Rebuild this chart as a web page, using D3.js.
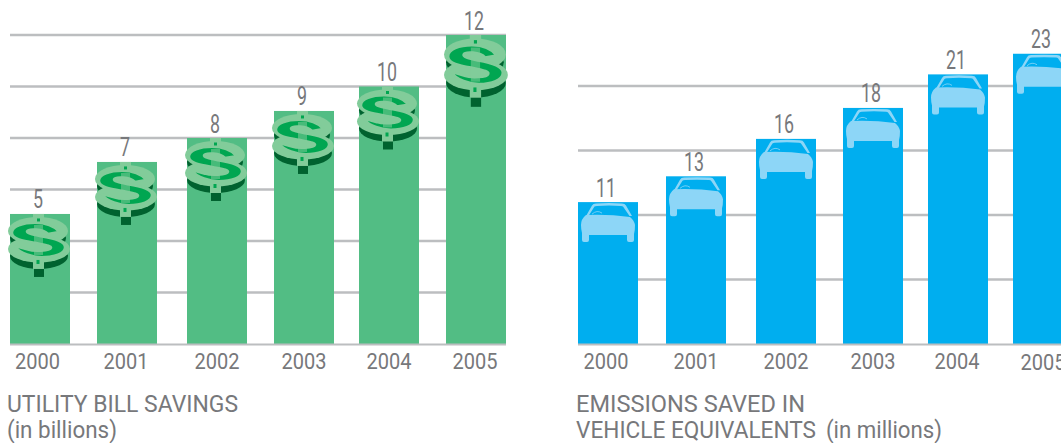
<!DOCTYPE html>
<html><head><meta charset="utf-8">
<script src="https://cdnjs.cloudflare.com/ajax/libs/d3/7.8.5/d3.min.js"></script>
<style>html,body{margin:0;padding:0;background:#fff;overflow:hidden}svg{display:block}text{font-family:Roboto,sans-serif;fill:#77787b}</style>
</head><body>
<svg id="c" width="1061" height="443"></svg>
<script>
const years = ["2000","2001","2002","2003","2004","2005"];
const savings = [5.05,7.07,8,9.05,10,12];
const savingsLabels = ["5","7","8","9","10","12"];
const emissions = [11,13,15.9,18.3,20.9,22.5];
const emissionsLabels = ["11","13","16","18","21","23"];
const savingsGrid = [2,4,6,8,10,12];
const emissionsGrid = [5,10,15,20];

const svg = d3.select("#c");
const baseY = 344, barW = 60, GRID = "#bcbec0";

const S_PATH = "M52,18 C46,10 36,8 28,8 C16,8 5,12 5,19 C5,26 17,28 28,30 C36,32 45,33 44,36 C43,40 26,40 21,38 L8,34 C13,42 26,46 35,46 C47,46 58,42 58,35 C58,28 46,25 34,23 C27,21.5 19,20 20,17 C21,14 36,14 41,20 Z";
function dollar(g, tall){
  const i = g.append("g").attr("transform", tall ? "scale(1.03,1.14)" : null);
  const light = "#82cc9a", dark = "#00622f", mid = "#00a651";
  const sT = "translate(0,1.84) scale(1,0.895)";
  i.append("rect").attr("x",27).attr("y",50).attr("width",10).attr("height",13).attr("fill",dark);
  i.append("ellipse").attr("cx",32).attr("cy",42).attr("rx",29).attr("ry",13).attr("fill",dark);
  i.append("ellipse").attr("cx",31).attr("cy",24).attr("rx",28).attr("ry",14).attr("fill",dark);
  i.append("ellipse").attr("cx",31).attr("cy",17).attr("rx",30).attr("ry",14).attr("fill",light);
  i.append("ellipse").attr("cx",32).attr("cy",35).attr("rx",31).attr("ry",13.5).attr("fill",light);
  i.append("path").attr("d",S_PATH).attr("transform",sT).attr("fill",mid).attr("stroke",light).attr("stroke-width",2.4).attr("stroke-linejoin","round");
  i.append("rect").attr("x",26).attr("y",0).attr("width",11).attr("height",7).attr("fill",light);
  i.append("rect").attr("x",26).attr("y",44).attr("width",11).attr("height",11).attr("fill",light);
  i.append("rect").attr("x",30).attr("y",4.5).attr("width",3).attr("height",3).attr("fill",mid);
  i.append("rect").attr("x",29.5).attr("y",46).attr("width",3).attr("height",4).attr("fill",mid);
  i.append("rect").attr("x",27).attr("y",11).attr("width",9).attr("height",30).attr("fill",light).attr("opacity",0.55);
}
function car(g){
  const c = "#8dd6f7";
  g.append("path").attr("fill",c).attr("d","M8,14 L14,3.5 Q15,1.4 18,1.3 Q31,0.6 44,1.3 Q47,1.4 48,3.5 L54,14 L51.5,14 L45,4.5 Q44.5,3.8 43,3.8 Q31,3 19,3.8 Q17,3.8 16.5,4.5 L10.5,14 Z");
  g.append("path").attr("fill","none").attr("stroke",c).attr("stroke-width",0.8).attr("d","M14,12 Q19,7.5 24,11");
  g.append("path").attr("fill",c).attr("d","M8,13 Q30,12 52,15 Q56,18 57,23 Q57,29 56,32 L56,38 Q56,40 54,40 L51,40 Q49,40 49,38 L49,33 L11,33 L11,38 Q11,40 9,40 L6,40 Q4,40 4,38 L4,31 Q3,27 3,23 Q3,17 8,13 Z");
}
function panel(o){
  const y = d3.scaleLinear().domain(o.domain).range([baseY,o.top]);
  const x = d3.scaleOrdinal().domain(years).range(o.barX);
  const tx = d3.scaleOrdinal().domain(years).range(o.tickX);
  const g = svg.append("g");
  g.selectAll(".grid").data(o.grid).join("line").attr("class","grid")
    .attr("x1",o.x0).attr("x2",o.x1).attr("y1",d=>y(d)).attr("y2",d=>y(d))
    .attr("stroke",GRID).attr("stroke-width",2.4);
  g.selectAll(".bar").data(o.values).join("rect").attr("class","bar")
    .attr("x",(d,i)=>x(years[i])).attr("width",barW)
    .attr("y",d=>y(d)).attr("height",d=>baseY-y(d)).attr("fill",o.color);
  g.append("line").attr("x1",o.x0).attr("x2",o.x1).attr("y1",baseY+0.5).attr("y2",baseY+0.5).attr("stroke",GRID).attr("stroke-width",2);
  o.values.forEach((v,i)=>{
    const ig = g.append("g").attr("transform",`translate(${x(years[i])+o.iconDx},${y(v)})`);
    o.icon(ig, i===5);
  });
  g.selectAll(".val").data(o.values).join("text").attr("class","val")
    .attr("x",(d,i)=>x(years[i])+28).attr("y",d=>y(d)-5.5)
    .attr("text-anchor","middle").attr("font-size",25.5)
    .attr("textLength",(d,i)=>o.labels[i].length*10).attr("lengthAdjust","spacingAndGlyphs")
    .text((d,i)=>o.labels[i]);
  g.selectAll(".tick").data(years).join("text").attr("class","tick")
    .attr("x",d=>tx(d)).attr("y",(d,i)=>368.5+(o.lastDy&&i===5?o.lastDy:0))
    .attr("text-anchor","middle").attr("font-size",21.5).attr("textLength",45).attr("lengthAdjust","spacingAndGlyphs")
    .text(d=>d);
  o.titles.forEach(t=>{
    g.append("text").attr("x",t.x).attr("y",t.y).attr("font-size",t.s)
      .attr("textLength",t.w).attr("lengthAdjust","spacingAndGlyphs").text(t.t);
  });
}
panel({domain:[0,12],top:35,grid:savingsGrid,values:savings,labels:savingsLabels,color:"#52bd84",
  x0:10,x1:506,barX:[10,97,187,274,359,446],tickX:[37.5,126,217,304,389,475],iconDx:-3,icon:dollar,
  titles:[{t:"UTILITY BILL SAVINGS",x:7,y:412,s:23.5,w:231},{t:"(in billions)",x:7,y:437.5,s:23.5,w:110}]});
panel({domain:[0,25],top:21.5,grid:emissionsGrid,values:emissions,labels:emissionsLabels,color:"#00aeef",
  x0:578,x1:1061,barX:[578,666,756,843,928,1013],tickX:[606,696,786,873,957,1043],iconDx:0,icon:car,lastDy:1,
  titles:[{t:"EMISSIONS SAVED IN",x:576,y:412,s:23.5,w:229},{t:"VEHICLE EQUIVALENTS",x:576,y:437.5,s:23.5,w:240},{t:"(in millions)",x:826,y:437.5,s:23.5,w:116}]});
</script>
</body></html>
